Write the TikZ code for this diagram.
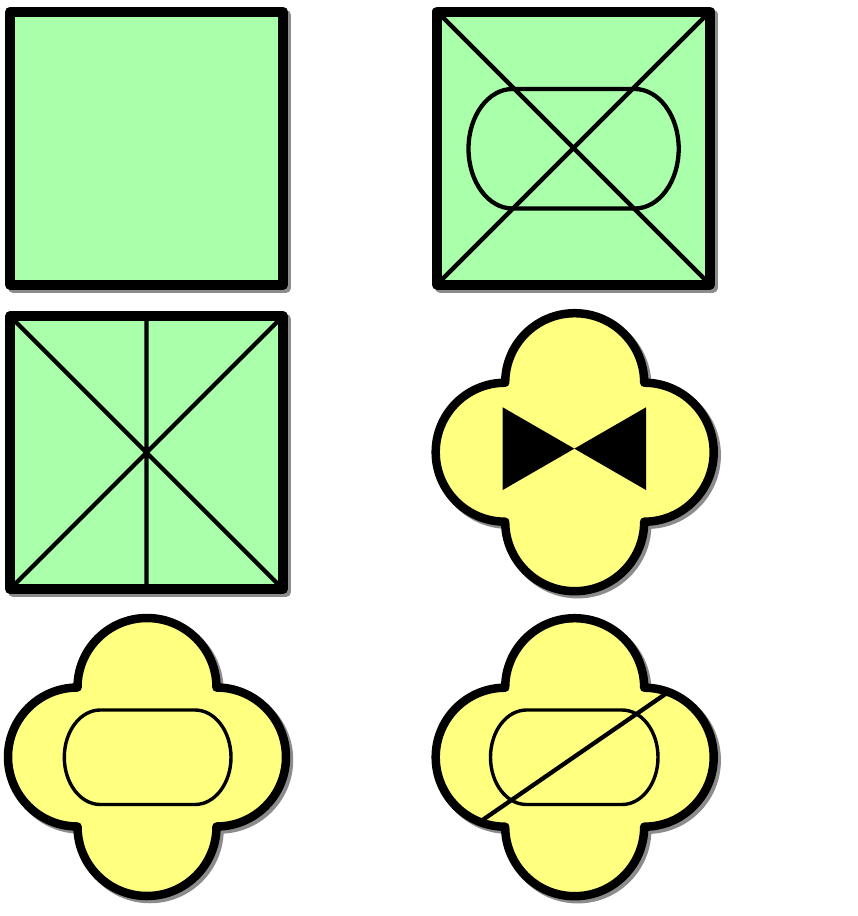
\documentclass[tikz,border=0pt]{standalone}
\definecolor{sqgreen}{RGB}{170,255,170}
\definecolor{cloudyellow}{RGB}{255,255,128}
\definecolor{shadowgray}{RGB}{140,140,140}
\tikzset{
  sqframe/.style={line width=10pt, line join=round},
  cloudframe/.style={line width=8.5pt, line join=round},
  innerline/.style={line width=4.3pt},
  thinline/.style={line width=3.4pt},
  shadowstyle/.style={draw=shadowgray, fill=shadowgray},
}
\newcommand\sqpath[2]{(#1-136.5,#2-136.5) rectangle (#1+136.5,#2+136.5)}
\newcommand\cloudpath[2]{(#1-69.5,#2-69.5) arc[start angle=180,end angle=0,radius=69.5pt] arc[start angle=90,end angle=-90,radius=69.5pt] arc[start angle=0,end angle=-180,radius=69.5pt] arc[start angle=-90,end angle=-270,radius=69.5pt] -- cycle}
% pill: x1,y1,x2,y2,rx,ry (image coordinates, y downward)
\newcommand\pillpath[6]{(#1+#5,#2) -- (#3-#5,#2) arc[start angle=90,end angle=0,x radius=#5pt,y radius=#6pt] -- (#3,#4-#6) arc[start angle=0,end angle=-90,x radius=#5pt,y radius=#6pt] -- (#1+#5,#4) arc[start angle=-90,end angle=-180,x radius=#5pt,y radius=#6pt] -- (#1,#2+#6) arc[start angle=180,end angle=90,x radius=#5pt,y radius=#6pt] -- cycle}
\begin{document}
\begin{tikzpicture}[x=1pt,y=-1pt]
\useasboundingbox (0,0) rectangle (858,916);

% square 1 (plain)
\path[shadowstyle,sqframe] \sqpath{149.5}{151.2};
\path[fill=sqgreen,draw=black,sqframe] \sqpath{146.5}{148.2};

% square 2 (cross + stadium)
\path[shadowstyle,sqframe] \sqpath{576.5}{151};
\path[fill=sqgreen] \sqpath{573.5}{148};
\draw[innerline] (437,11.5) -- (710,284.5) (710,11.5) -- (437,284.5);
\draw[innerline] \pillpath{468.5}{89}{678.7}{208.5}{44}{59.75};
\draw[sqframe] \sqpath{573.5}{148};

% square 3 (cross + vertical)
\path[shadowstyle,sqframe] \sqpath{149.5}{455.6};
\path[fill=sqgreen] \sqpath{146.5}{452.6};
\draw[innerline] (10,316.1) -- (283,589.1) (283,316.1) -- (10,589.1) (146.5,316.1) -- (146.5,589.1);
\draw[sqframe] \sqpath{146.5}{452.6};

% cloud middle right (bowtie)
\path[shadowstyle,cloudframe] \cloudpath{577.7}{455.2};
\path[fill=cloudyellow] \cloudpath{574.7}{452.2};
\fill (502.7,407.3) -- (646,490) -- (646,407.3) -- (502.7,490) -- cycle;
\draw[cloudframe] \cloudpath{574.7}{452.2};

% cloud bottom left (stadium)
\path[shadowstyle,cloudframe] \cloudpath{150}{760};
\path[fill=cloudyellow] \cloudpath{147}{757};
\draw[thinline] \pillpath{64.3}{710}{231}{804.5}{36}{47.25};
\draw[cloudframe] \cloudpath{147}{757};

% cloud bottom right (stadium + slash)
\path[shadowstyle,cloudframe] \cloudpath{577.7}{760.2};
\path[fill=cloudyellow] \cloudpath{574.7}{757.2};
\draw[thinline] \pillpath{490.5}{710}{658}{804.5}{36}{47.25};
\begin{scope}
  \clip \cloudpath{574.7}{757.2};
  \draw[innerline] (467,830.7) -- (683,681.9);
\end{scope}
\draw[cloudframe] \cloudpath{574.7}{757.2};
\end{tikzpicture}
\end{document}
